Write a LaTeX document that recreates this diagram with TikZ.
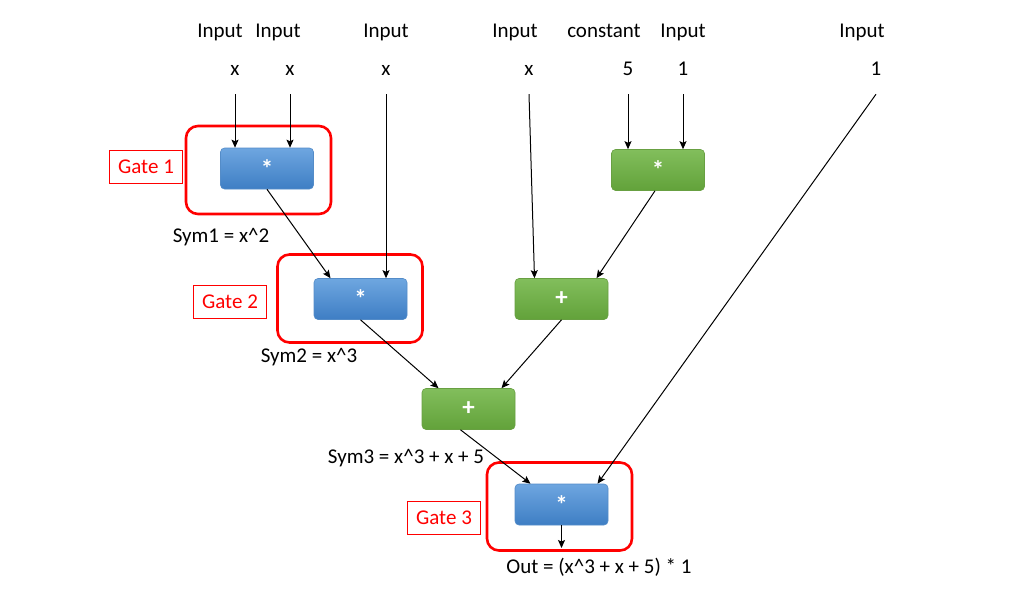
\documentclass[tikz,border=0pt]{standalone}
\usepackage{fontspec}
\setmainfont{Carlito}
\usetikzlibrary{arrows.meta,calc}
\definecolor{opbluetop}{RGB}{110,166,224}
\definecolor{opbluebot}{RGB}{62,126,196}
\definecolor{opblueedge}{RGB}{84,140,200}
\definecolor{opgreentop}{RGB}{130,190,92}
\definecolor{opgreenbot}{RGB}{98,162,58}
\definecolor{opgreenedge}{RGB}{104,160,66}
\definecolor{gatered}{RGB}{255,0,0}

\begin{document}
\begin{tikzpicture}[
  x=1pt,y=-1pt,
  font=\fontsize{21}{25}\selectfont,
  >={Stealth[length=8pt,width=7pt,inset=1.5pt]},
  bluebox/.style={draw=opblueedge,line width=0.6pt,top color=opbluetop,bottom color=opbluebot,rounded corners=4pt,minimum width=93pt,minimum height=41pt,text=white,font=\fontsize{25}{28}\selectfont\bfseries},
  greenbox/.style={bluebox,draw=opgreenedge,top color=opgreentop,bottom color=opgreenbot},
  gatering/.style={draw=gatered,line width=2.6pt,rounded corners=12pt,minimum width=145pt,minimum height=88pt},
  gatetag/.style={draw=gatered,line width=0.7pt,text=gatered,minimum width=73pt,minimum height=33pt,inner sep=2pt},
  src/.style={text height=13pt,text depth=1pt,inner sep=2pt},
  ar/.style={->,line width=1pt,black},
  arx/.style={ar,shorten <=16pt}
]
\useasboundingbox (0,0) rectangle (1024,606);

% TOP: input labels and values
\node[src] (ia) at (220,31) {Input};
\node[src] (ib) at (278,31) {Input};
\node[src] (ic) at (386,31) {Input};
\node[src] (id) at (515,31) {Input};
\node[src] (ie) at (604,31) {constant};
\node[src] (if) at (683,31) {Input};
\node[src] (ig) at (862,31) {Input};
\node[src] (xa) at (235,69) {x};
\node[src] (xb) at (290,69) {x};
\node[src] (xc) at (386,69) {x};
\node[src] (xd) at (529,69) {x};
\node[src] (five) at (628,69) {5};
\node[src] (onea) at (683,69) {1};
\node[src] (oneb) at (876,69) {1};

% GATE RINGS and tags
\node[gatering] (r1) at (258.5,170) {};
\node[gatering] (r2) at (350,298.5) {};
\node[gatering] (r3) at (559.5,506.5) {};
\node[gatetag] (t1) at (146,166.5) {Gate 1};
\node[gatetag] (t2) at (230,301.5) {Gate 2};
\node[gatetag] (t3) at (444,518) {Gate 3};

% OPERATION BOXES
\node[bluebox] (m1) at (267,168.5) {*};
\node[greenbox] (mg) at (658,170) {*};
\node[bluebox] (m2) at (360.5,299) {*};
\node[greenbox] (a1) at (561.5,299) {+};
\node[greenbox] (a2) at (468.5,409) {+};
\node[bluebox] (m3) at (561.5,504.5) {*};

% RESULT LABELS
\node (s1) at (221,237) {Sym1 = x\textasciicircum 2};
\node (s2) at (309,357) {Sym2 = x\textasciicircum 3};
\node (s3) at (406,458) {Sym3 = x\textasciicircum 3 + x + 5};
\node (out) at (599,567) {Out = (x\textasciicircum 3 + x + 5) * 1};
\coordinate (outend) at (561.5,548);

% WIRES
\draw[arx] (xa) -- (xa |- m1.north);
\draw[arx] (xb) -- (xb |- m1.north);
\draw[arx] (xc) -- (xc |- m2.north);
\draw[ar] ([yshift=-16pt]xd.south) -- ([xshift=-27pt]a1.north);
\draw[arx] (five) -- (five |- mg.north);
\draw[arx] (onea) -- (onea |- mg.north);
\draw[ar] ([yshift=-16pt]oneb.south) -- ([xshift=36pt]m3.north);
\draw[ar] (m1.south) -- ([xshift=-30pt]m2.north);
\draw[ar] ([xshift=-3pt]mg.south) -- ([xshift=35pt]a1.north);
\draw[ar] (m2.south) -- ([xshift=-30pt]a2.north);
\draw[ar] (a1.south) -- ([xshift=33pt]a2.north);
\draw[ar] ([xshift=-8pt]a2.south) -- ([xshift=-31pt]m3.north);
\draw[ar] (m3.south) -- (outend);
\end{tikzpicture}
\end{document}
